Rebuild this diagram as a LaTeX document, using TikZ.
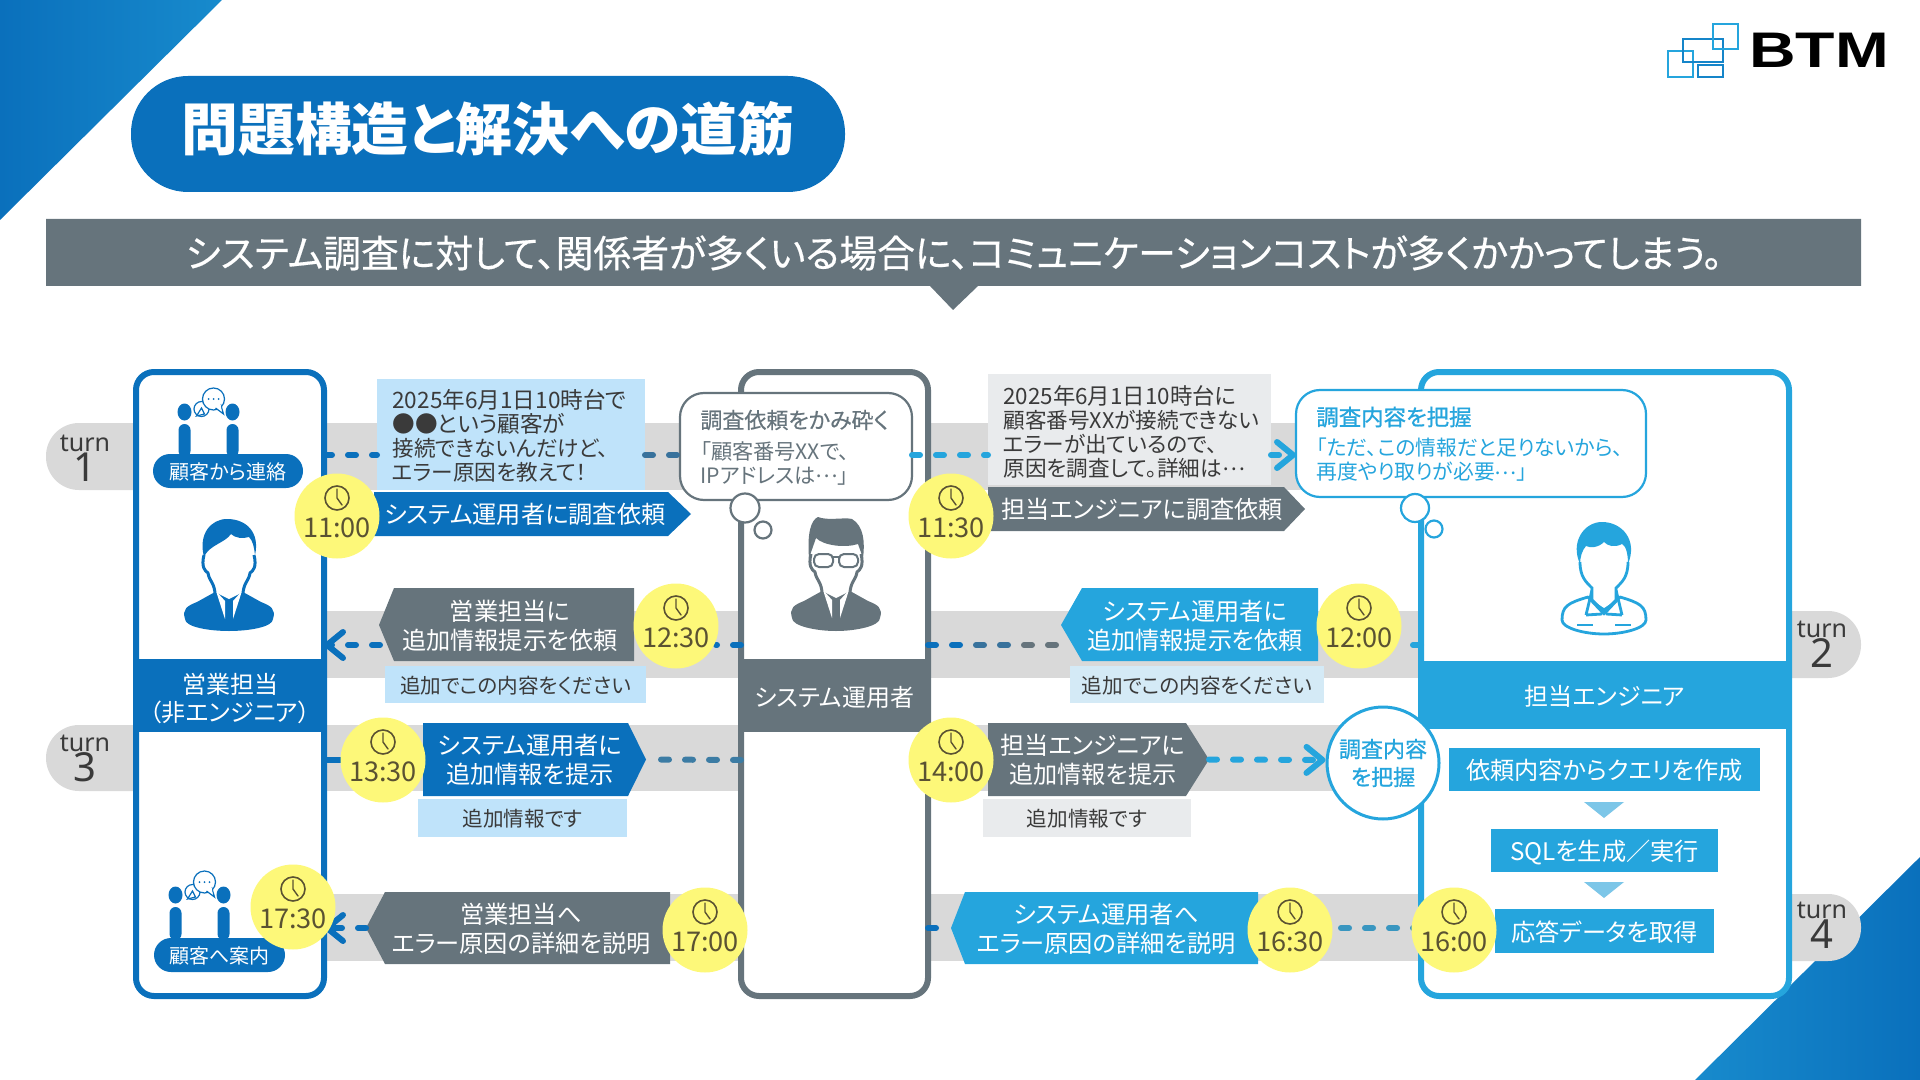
\documentclass[tikz,border=0pt]{standalone}
\usepackage{fontspec}
\usepackage{graphicx}
\setmainfont{Noto Sans CJK JP}[RawFeature=+palt]
\newfontfamily\medf{Noto Sans CJK JP}[RawFeature={+palt;embolden=0.4}]
\newfontfamily\semif{Noto Sans CJK JP}[RawFeature={+palt;embolden=0.9}]
\newfontfamily\latinf{Noto Sans}
\newfontfamily\logof{Liberation Sans}[BoldFont={Liberation Sans Bold}]
\usetikzlibrary{arrows.meta}
\definecolor{cblue}{HTML}{0A70BC}
\definecolor{clight}{HTML}{25A5DD}
\definecolor{cgray}{HTML}{66747C}
\definecolor{cband}{HTML}{D9D9D9}
\definecolor{cnoteb}{HTML}{BFE3FA}
\definecolor{cnotel}{HTML}{D4EAF6}
\definecolor{cnoteg}{HTML}{E9EBED}
\definecolor{cyel}{HTML}{FDF879}
\definecolor{ctime}{HTML}{5A5232}
\definecolor{ctxt}{HTML}{3A3A3A}
\definecolor{ctri}{HTML}{7CC6E8}
\newcommand\fsz[2]{\fontsize{#1}{#2}\selectfont}
\newcommand\cdotsx{\raisebox{.28em}{…}}
\newcommand\shiftv[2]{\raisebox{#1}[.88em][.12em]{#2}}
\newcommand\bx[7]{%
 \pgfmathsetmacro\bcx{(#2+#4)/2}\pgfmathsetmacro\bcy{(#3+#5)/2}%
 \pgfmathsetmacro\bw{(#4-#2)/2}\pgfmathsetmacro\bh{(#5-#3)/2}%
 \node[#6,minimum width=\bw pt,minimum height=\bh pt,inner sep=0pt,outer sep=0pt,align=center] (#1) at (\bcx,\bcy) {#7};}
% name, x-back, x-shoulder, x-tip, y1, y2, colour, textx, text
\newcommand\penta[9]{%
 \pgfmathsetmacro\bcy{(#5+#6)/2}%
 \fill[#7] (#2,#5) -- (#3,#5) -- (#4,\bcy) -- (#3,#6) -- (#2,#6) -- cycle;
 \coordinate (#1tip) at (#4,\bcy);
 \pgfmathsetmacro\bty{\bcy+.5}%
 \node[penttext] (#1) at (#8,\bty) {#9};}
\newcommand\badge[4]{%
 \begin{scope}[shift={(#2,#3)}]
 \node[circle,fill=cyel,minimum size=42.5pt,inner sep=0pt] (#1) at (0,0) {};
 \draw[ctime,line width=.8pt] (0,-18) circle [radius=12];
 \draw[ctime,line width=.7pt,line cap=round] (0,-27) -- (0,-18) -- (5,-11);
 \node[ctime,font=\fsz{13.6}{14},inner sep=0pt] (#1t) at (0,12) {#4};
 \end{scope}}
\newcommand\talkers[2]{%
 \begin{scope}[shift={(#1,#2)}]
 \fill[cblue] (0,12) ellipse [x radius=7,y radius=8.5] (48,12) ellipse [x radius=7,y radius=8.5];
 \fill[cblue,rounded corners=3pt] (-6,57) -- (-6,24) -- (6,24) -- (6,57) -- cycle;
 \fill[cblue,rounded corners=3pt] (42,57) -- (42,24) -- (54,24) -- (54,57) -- cycle;
 \draw[cblue,fill=white,line width=.6pt] (17,9) circle [radius=7.5];
 \draw[cblue,fill=white,line width=.6pt] (12,16) -- (20,14) -- (17,8) -- cycle;
 \draw[cblue,fill=white,line width=.6pt] (29,-1) circle [radius=11];
 \draw[cblue,fill=white,line width=.6pt] (31,8) -- (39,14) -- (36,4);
 \fill[white] (31,6) -- (37,11) -- (36,3) -- cycle;
 \fill[cblue] (24,-1) circle [radius=1] (29,-1) circle [radius=1] (34,-1) circle [radius=1];
 \end{scope}}
\newcommand\hairbody[1]{%
 \draw[#1,line width=1.5pt,line join=round] (-25,36) .. controls (-28,48) and (-24,52) .. (-21,54) .. controls (-20,62) and (-14,64) .. (-14,76);
 \draw[#1,line width=1.5pt,line join=round] (25,36) .. controls (28,48) and (24,52) .. (21,54) .. controls (20,62) and (14,64) .. (14,76);}
\tikzset{
 x=.5pt,y=-.5pt,
 penttext/.style={text=white,align=center,inner sep=0pt,font=\fsz{12.1}{14.5}},
 notetext/.style={text=ctxt,align=left,inner sep=0pt,anchor=west,font=\fsz{10.8}{12.05}},
 conn/.style={line width=3pt,line cap=round,dash pattern=on 4pt off 8pt},
 barb/.style={-{Straight Barb[length=8pt,width=13pt,line width=3pt,round]}},
 band/.style={fill=cband},
 paneln/.style={draw=#1,fill=white,line width=3pt,rounded corners=9pt},
 head/.style={fill=#1,text=white,font=\fsz{12}{14}},
 stepn/.style={fill=clight,text=white,font=\fsz{12.1}{14}},
 turnlab/.style={inner sep=0pt,text=ctxt,align=center,font=\latinf\fsz{12.5}{15}},
 notesm/.style={fill=#1,text=ctxt,font=\fsz{10.3}{12}},
}
\begin{document}
\begin{tikzpicture}
\useasboundingbox (0,0) rectangle (1920,1080);
% corners
\shade[left color=cblue,right color=cblue!50!clight] (0,0) -- (222,0) -- (0,220) -- cycle;
\shade[left color=cblue!50!clight,right color=cblue] (1920,857) -- (1920,1080) -- (1695,1080) -- cycle;
% title
\node[fill=cblue,rounded corners=28.5pt,minimum width=357pt,minimum height=58pt,inner sep=0pt,text=white,font=\bfseries\fsz{28.4}{30}] (title) at (488,134) {\shiftv{2.5pt}{問題構造と解決への道筋}};
% logo
\node[anchor=west,inner sep=0pt,font=\logof\bfseries\fsz{25}{25}] (logo) at (1749,50) {\scalebox{1.29}[1]{BTM}};
\begin{scope}[line width=1.2pt]
\draw[clight] (1668,51) rectangle (1693,77);
\draw[cblue!60!clight] (1683,39) rectangle (1723,62);
\draw[clight] (1713,24) rectangle (1738,49);
\draw[cblue!60!clight] (1698,65) rectangle (1723,77);
\end{scope}
% banner
\fill[cgray] (46,219) -- (1861,219) -- (1861,286) -- (978,286) -- (953,310) -- (930,286) -- (46,286) -- cycle;
\node[text=white,inner sep=0pt,font=\medf\fsz{18.9}{20}] (bannertext) at (954,253) {システム調査に対して、関係者が多くいる場合に、コミュニケーションコストが多くかかってしまう。};
% bands
\fill[band,rounded corners=16.5pt] (46,423) rectangle (300,490);
\fill[band] (200,423) rectangle (1430,490);
\fill[band,rounded corners=16.5pt] (1700,611) rectangle (1861,678);
\fill[band] (327,611) rectangle (1780,678);
\fill[band,rounded corners=16.5pt] (46,725) rectangle (300,791);
\fill[band] (200,725) rectangle (1430,791);
\fill[band,rounded corners=16.5pt] (1700,894) rectangle (1861,961);
\fill[band] (327,894) rectangle (1780,961);
% turn labels
\node[turnlab] (turnA) at (85,458) {turn\\{\fontsize{20}{15}\selectfont 1}};
\node[turnlab] (turnB) at (1822,644) {turn\\{\fontsize{20}{15}\selectfont 2}};
\node[turnlab] (turnC) at (85,758) {turn\\{\fontsize{20}{15}\selectfont 3}};
\node[turnlab] (turnD) at (1822,925) {turn\\{\fontsize{20}{15}\selectfont 4}};
% panels
\bx{pa}{136}{372}{324}{996}{paneln=cblue}{}
\bx{pb}{741}{372}{928}{996}{paneln=cgray}{}
\bx{pc}{1421}{372}{1789}{996}{paneln=clight}{}
\bx{ha}{133}{659}{327}{732}{head=cblue}{}
\node[inner sep=0pt,align=center,text=white,font=\fsz{12}{14}] (hat) at (230,699) {営業担当\\\hspace*{1.8pt}（非エンジニア）\hspace*{1.8pt}};
\bx{hb}{738}{659}{931}{732}{head=cgray}{\shiftv{-1pt}{システム運用者}}
\bx{hc}{1418}{661}{1792}{729}{head=clight}{\shiftv{-.8pt}{担当エンジニア}}
% row anchors
\coordinate (rA) at (0,455); \coordinate (rB) at (0,645); \coordinate (rC) at (0,760); \coordinate (rD) at (0,928);
% person A
\begin{scope}[shift={(229,519)}]
\fill[cblue] (-44,100) .. controls (-47,90) and (-42,87) .. (-32,83) -- (-14,73) -- (14,73) -- (32,83) .. controls (42,87) and (47,90) .. (44,100) .. controls (44,108) and (20,112) .. (0,112) .. controls (-20,112) and (-44,108) .. (-44,100) -- cycle;
\fill[white] (-14,60) -- (14,60) -- (14,73) -- (0,80) -- (-14,73) -- cycle;
\fill[white] (-13,72) -- (-4,82) -- (-4,100) -- cycle;
\fill[white] (13,72) -- (4,82) -- (4,100) -- cycle;
\hairbody{cblue}
\fill[cblue] (-25,38) .. controls (-31,15) and (-18,0) .. (-2,0) .. controls (18,0) and (31,14) .. (26,36) .. controls (25,28) and (24,22) .. (20,18) .. controls (14,20) and (6,19) .. (2,15) .. controls (-4,24) and (-20,26) .. (-25,38) -- cycle;
\end{scope}
% person B
\begin{scope}[shift={(836,518)}]
\fill[cgray] (-44,100) .. controls (-47,90) and (-42,87) .. (-32,83) -- (-14,73) -- (14,73) -- (32,83) .. controls (42,87) and (47,90) .. (44,100) .. controls (44,108) and (20,113) .. (0,113) .. controls (-20,113) and (-44,108) .. (-44,100) -- cycle;
\fill[white] (-14,60) -- (14,60) -- (14,73) -- (0,80) -- (-14,73) -- cycle;
\fill[white] (-13,72) -- (-4,82) -- (-4,100) -- cycle;
\fill[white] (13,72) -- (4,82) -- (4,100) -- cycle;
\hairbody{cgray}
\fill[cgray] (-27,40) .. controls (-29,15) and (-25,2) .. (-18,-1) .. controls (-8,3) and (8,-1) .. (16,1) .. controls (28,8) and (29,25) .. (27,40) -- (22,26) .. controls (10,30) and (-12,28) .. (-20,20) -- cycle;
\draw[cgray,line width=1pt,fill=white,rounded corners=2.5pt] (-22,36) rectangle (-3,49);
\draw[cgray,line width=1pt,fill=white,rounded corners=2.5pt] (3,36) rectangle (22,49);
\draw[cgray,line width=1pt] (-3,39) -- (3,39);
\end{scope}
% person C
\begin{scope}[shift={(1604,522)}]
\draw[clight,line width=1.4pt,fill=white,line join=round] (-42,98) .. controls (-42,84) and (-36,81) .. (-16,75) -- (0,92) -- (16,75) .. controls (36,81) and (42,84) .. (42,98) .. controls (42,106) and (20,112) .. (0,112) .. controls (-20,112) and (-42,106) .. (-42,98) -- cycle;
\fill[clight] (-9,78) -- (9,78) -- (0,92) -- cycle;
\draw[clight,line width=1.4pt] (-18,93) -- (-12,68) (18,93) -- (12,68) (-18,93) -- (-2,92) (18,93) -- (2,92);
\draw[clight,line width=1.4pt] (-27,103) -- (-11,103) (11,103) -- (27,103);
\fill[white] (-24,40) .. controls (-24,55) and (-18,60) .. (-12,66) -- (-12,78) -- (0,86) -- (12,78) -- (12,66) .. controls (18,60) and (24,55) .. (24,40) -- cycle;
\draw[clight,line width=1.4pt] (-24,40) .. controls (-24,55) and (-18,60) .. (-12,66) -- (-12,78) -- (0,90) -- (12,78) -- (12,66) .. controls (18,60) and (24,55) .. (24,40);
\fill[clight] (-24,42) .. controls (-34,20) and (-20,0) .. (-2,0) .. controls (18,0) and (34,18) .. (24,42) .. controls (24,32) and (22,24) .. (18,22) .. controls (10,26) and (4,24) .. (0,20) .. controls (-6,26) and (-14,26) .. (-18,24) .. controls (-22,28) and (-24,36) .. (-24,42) -- cycle;
\end{scope}
% talkers
\talkers{184.5}{400}
\talkers{175.5}{883}
\bx{pillA}{153}{454}{303}{488}{fill=cblue,rounded corners=8.5pt,text=white,font=\fsz{10}{12}}{\shiftv{-.6pt}{顧客から連絡}}
\bx{pillB}{154}{938}{285}{972}{fill=cblue,rounded corners=8.5pt,text=white,font=\fsz{10}{12}}{\shiftv{-.6pt}{顧客へ案内}}
% note A
\bx{noteA}{377}{379}{645}{490}{fill=cnoteb}{}
\node[notetext] (noteAt) at (392,436) {{\fontsize{11.3}{12.05}\selectfont 2025年6月1日10時台で}\\{\fontsize{11.3}{12.05}\selectfont ●●という顧客が}\\接続できないんだけど、\\エラー原因を教えて！};
\penta{pA}{374}{668}{691}{492}{536}{cblue}{525}{システム運用者に調査依頼}
% bubble B
\bx{bubB}{680}{393}{912}{500}{draw=cgray,fill=white,line width=1.1pt,rounded corners=12pt}{}
\node[inner sep=0pt,anchor=west,text=cgray,font=\medf\fsz{11}{12}] (bubBt) at (700,420) {調査依頼をかみ砕く};
\node[inner sep=0pt,anchor=west,text=cgray,align=left,font=\fsz{10.6}{12}] (bubBb) at (700,463) {「顧客番号XXで、\\IPアドレスは\cdotsx」};
\node[circle,draw=cgray,fill=white,line width=1.1pt,minimum size=14.5pt,inner sep=0pt] (thBa) at (745,508) {};
\node[circle,draw=cgray,fill=white,line width=1.1pt,minimum size=8.5pt,inner sep=0pt] (thBb) at (763,530) {};
% note C
\bx{noteC}{988}{374}{1271}{485}{fill=cnoteg}{}
\node[notetext] (noteCt) at (1003,432) {{\fontsize{11.2}{12.05}\selectfont 2025年6月1日10時台に}\\顧客番号XXが接続できない\\エラーが出ているので、\\原因を調査して。詳細は\cdotsx};
\penta{pB}{988}{1284}{1305}{487}{531}{cgray}{1142}{担当エンジニアに調査依頼}
% bubble C
\bx{bubC}{1296}{390}{1646}{497}{draw=clight,fill=white,line width=1.1pt,rounded corners=12pt}{}
\node[inner sep=0pt,anchor=west,text=clight,font=\semif\fsz{11.2}{12}] (bubCt) at (1316,417) {調査内容を把握};
\node[inner sep=0pt,anchor=west,text=clight,align=left,font=\fsz{10.4}{12}] (bubCb) at (1316,460) {「ただ、この情報だと足りないから、\\再度やり取りが必要\cdotsx」};
\node[circle,draw=clight,fill=white,line width=1.1pt,minimum size=14pt,inner sep=0pt] (thCa) at (1415,508) {};
\node[circle,draw=clight,fill=white,line width=1.1pt,minimum size=8.5pt,inner sep=0pt] (thCb) at (1434,529) {};
% row 2
\fill[cgray] (634,588) -- (394,588) -- (379,625) -- (394,661) -- (634,661) -- cycle;
\coordinate (pCtip) at (380,645);
\node[penttext] (pC) at (510,626) {営業担当に\\追加情報提示を依頼};
\bx{noteE}{385}{666}{646}{703}{notesm=cnoteb}{\shiftv{-.5pt}{追加でこの内容をください}}
\fill[clight] (1318,588) -- (1082,588) -- (1061,625) -- (1082,661) -- (1318,661) -- cycle;
\coordinate (pDtip) at (1068,645);
\node[penttext] (pD) at (1195,626) {システム運用者に\\追加情報提示を依頼};
\bx{noteF}{1070}{666}{1324}{703}{notesm=cnotel}{\shiftv{-.5pt}{追加でこの内容をください}}
% row 3
\penta{pE}{423}{628}{646}{723}{796}{cblue}{530}{システム運用者に\\追加情報を提示}
\bx{noteG}{418}{799}{627}{837}{notesm=cnoteb}{\shiftv{-.5pt}{追加情報です}}
\penta{pF}{988}{1186}{1209}{723}{796}{cgray}{1093}{担当エンジニアに\\追加情報を提示}
\bx{noteH}{983}{799}{1191}{837}{notesm=cnoteg}{\shiftv{-.5pt}{追加情報です}}
% row 4
\fill[clight] (1258,892) -- (965,892) -- (951,928) -- (965,964) -- (1258,964) -- cycle;
\coordinate (pGtip) at (951,928);
\node[penttext] (pG) at (1106,929) {システム運用者へ\\エラー原因の詳細を説明};
\fill[cgray] (670,892) -- (385,892) -- (366,928) -- (385,964) -- (670,964) -- cycle;
\coordinate (pHtip) at (366,928);
\node[penttext] (pH) at (521,929) {営業担当へ\\エラー原因の詳細を説明};
% steps
\node[circle,draw=clight,fill=white,line width=1.5pt,minimum size=56pt,inner sep=0pt,text=clight,align=center,font=\semif\fsz{11}{14}] (grasp) at (1383,763) {調査内容\\を把握};
\bx{stA}{1449}{748}{1760}{791}{stepn}{\shiftv{-.5pt}{依頼内容からクエリを作成}}
\fill[ctri] (1584,802) -- (1624,802) -- (1604,818) -- cycle;
\bx{stB}{1491}{829}{1718}{872}{stepn}{\shiftv{-.5pt}{SQLを生成／実行}}
\fill[ctri] (1584,882) -- (1624,882) -- (1604,898) -- cycle;
\bx{stC}{1495}{909}{1714}{953}{stepn}{\shiftv{-.5pt}{応答データを取得}}
% connectors
\coordinate (tDr) at (1398,645);
\coordinate (mBa) at (970,645);
\coordinate (mBb) at (976,645);
\coordinate (mBc) at (1018,645);
\coordinate (mBd) at (1024,645);
\draw[conn,cblue] (pa.east |- rA) -- (noteA.west |- rA);
\draw[conn,cblue!50!cgray] (noteA.east |- rA) -- (bubB.west |- rA);
\draw[conn,clight] (bubB.east |- rA) -- (noteC.west |- rA);
\draw[conn,clight,barb] (noteC.east |- rA) -- (bubC.west |- rA);
\draw[conn,clight] (pc.west |- rB) -- (tDr);
\draw[conn,cblue] (pb.east |- rB) -- (mBa);
\draw[conn,cblue!50!cgray] (mBb) -- (mBc);
\draw[conn,cgray] (mBd) -- (pDtip);
\draw[conn,cblue] (pb.west |- rB) -- (716,645);
\draw[conn,cblue,barb] (pCtip) -- (pa.east |- rB);
\draw[line width=3pt,cblue] (pa.east |- rC) -- (345,760);
\draw[conn,cblue!40!cgray!80!clight] (pb.west |- rC) -- (pEtip);
\draw[conn,clight,barb] (pFtip) -- (grasp.west |- rC);
\draw[conn,clight!70!cgray] (pc.west |- rD) -- (1334,928);
\draw[conn,cblue] (pb.east |- rD) -- (pGtip);
\draw[conn,cblue,barb] (pHtip) -- (pa.east |- rD);
% time badges
\badge{tA}{337}{516}{11:00}
\badge{tB}{951}{516}{11:30}
\badge{tC}{676}{626}{12:30}
\badge{tD}{1359}{626}{12:00}
\badge{tE}{383}{760}{13:30}
\badge{tF}{951}{760}{14:00}
\badge{tG}{1454}{930}{16:00}
\badge{tH}{1290}{930}{16:30}
\badge{tI}{705}{930}{17:00}
\badge{tJ}{293}{907}{17:30}
\end{tikzpicture}
\end{document}
